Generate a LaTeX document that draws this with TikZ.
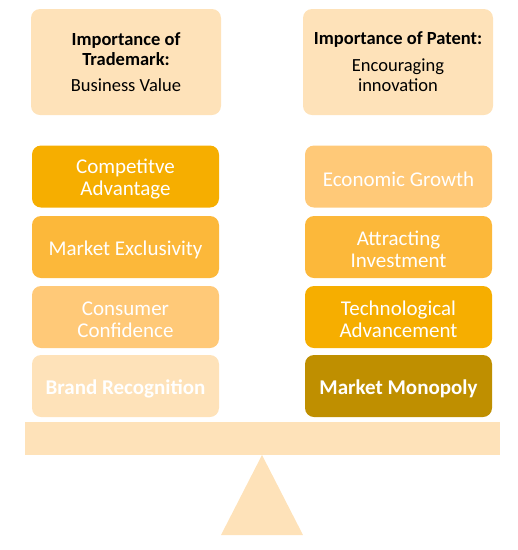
\documentclass[tikz,border=0pt]{standalone}
\usepackage{fontspec}
\setmainfont{Carlito}
\definecolor{pale}{HTML}{FEE2B9}
\definecolor{lite}{HTML}{FFC978}
\definecolor{mid}{HTML}{FCB83A}
\definecolor{deep}{HTML}{F6AE00}
\definecolor{dark}{HTML}{BF8F00}
\begin{document}
\begin{tikzpicture}[x=1pt,y=-1pt,
  topbox/.style={fill=pale,rounded corners=9pt,minimum width=190pt,minimum height=106pt,
     align=center,text=black,font=\fontsize{18.5}{20.5}\selectfont,inner sep=0pt},
  item/.style={rounded corners=9pt,minimum width=187pt,minimum height=62pt,inner sep=0pt},
  itemtext/.style={align=center,text=white,font=\fontsize{21}{22}\selectfont,inner sep=0pt,yshift=-2.5pt},
  boldtext/.style={itemtext,font=\bfseries\fontsize{21}{22}\selectfont},
  support/.style={fill=pale}]
\useasboundingbox (0,0) rectangle (518,550);
\node[topbox] (tm) at (126,62) {\textbf{Importance of}\\\textbf{Trademark:}\\[5pt]Business Value};
\node[topbox] (pt) at (398,62) {\textbf{Importance of Patent:}\\[6pt]Encouraging\\innovation};
\node[item,fill=deep] (l1) at (125.5,176.5) {};
\node[item,fill=mid] (l2) at (125.5,247) {};
\node[item,fill=lite] (l3) at (125.5,317) {};
\node[item,fill=pale] (l4) at (125.5,386) {};
\node[item,fill=lite] (r1) at (398.5,176.5) {};
\node[item,fill=mid] (r2) at (398.5,247) {};
\node[item,fill=deep] (r3) at (398.5,317) {};
\node[item,fill=dark] (r4) at (398.5,386) {};
\node[itemtext] (l1t) at (l1.center) {Competitve\\Advantage};
\node[itemtext] (l2t) at (l2.center) {Market Exclusivity};
\node[itemtext] (l3t) at (l3.center) {Consumer\\Confidence};
\node[boldtext] (l4t) at (l4.center) {Brand Recognition};
\node[itemtext] (r1t) at (r1.center) {Economic Growth};
\node[itemtext] (r2t) at (r2.center) {Attracting\\Investment};
\node[itemtext] (r3t) at (r3.center) {Technological\\Advancement};
\node[boldtext] (r4t) at (r4.center) {Market Monopoly};
\fill[support] (25,422) rectangle (500,455);
\fill[support] (262,455) -- (303,535) -- (221,535) -- cycle;
\end{tikzpicture}
\end{document}
